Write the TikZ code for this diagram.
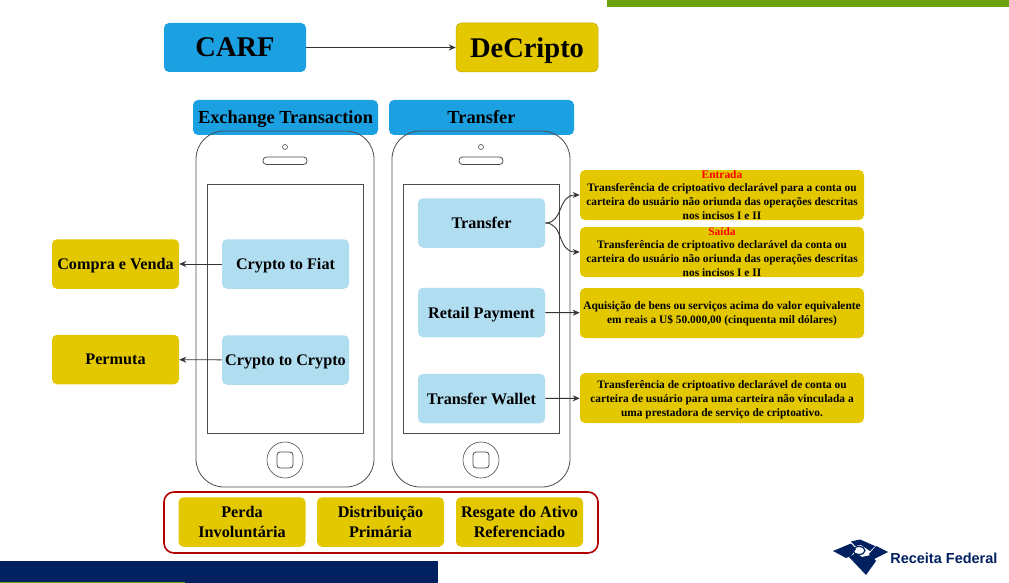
\documentclass[tikz,border=0pt]{standalone}
\usepackage{fontspec}
\setmainfont{Liberation Serif}
\newfontfamily\logofont{Liberation Sans}
\usepackage{xcolor}
\usetikzlibrary{arrows.meta}
\definecolor{carfblue}{HTML}{1BA1E2}
\definecolor{paleblue}{HTML}{B1DDF0}
\definecolor{gold}{HTML}{E3C800}
\definecolor{frame}{HTML}{B20000}
\definecolor{navy}{HTML}{002060}
\definecolor{leaf}{HTML}{6AA50F}

\begin{document}
\begin{tikzpicture}
	[x=1pt,y=-1pt,line width=0.6,font=\bfseries,
	>={Stealth[length=7pt,width=6pt]},
	box/.style = {
		rounded corners=5pt, inner sep=0pt, align=center, text=black, text depth=0pt
	},
	head/.style = {
		box, fill=carfblue, minimum width=142pt, minimum height=49pt, font=\fontsize{28.5}{30}\selectfont\bfseries
	},
	tab/.style = {
		box, fill=carfblue, minimum width=185pt, minimum height=35pt, font=\fontsize{18.4}{20}\selectfont\bfseries
	},
	act/.style = {
		box, fill=paleblue, minimum width=127pt, minimum height=49.5pt, font=\fontsize{16.2}{20}\selectfont\bfseries
	},
	tag/.style = {
		box, fill=gold, minimum width=127pt, minimum height=49.5pt, font=\fontsize{16.2}{20}\selectfont\bfseries
	},
	note/.style = {
		box, fill=gold, minimum width=284pt, minimum height=50pt, font=\fontsize{11.4}{14}\selectfont\bfseries
	},
	case/.style = {
		draw=black!70, line width=0.8pt, rounded corners=28pt
	},
	part/.style = {
		draw=black!70, line width=0.8pt
	},
	wire/.style = {
		draw=black!80, line width=0.9pt, ->
	}]
	\useasboundingbox (0,0) rectangle (1009,583);

	%Draw bars
	\fill[leaf] (607,0) rectangle (1009,7);
	\fill[navy] (0,561) rectangle (438,583);
	\fill[leaf] (0,582) rectangle (185,583);

	%Draw nodes
	\node[head] at (235,47.5) (carf) {CARF};
	\node[head,fill=gold,draw=gold!85!black,line width=0.5pt] at (527,47.5) (decripto) {DeCripto};
	\node[tab] at (285.5,117.5) (exch) {Exchange Transaction};
	\node[tab] at (481.5,117.5) (transfer) {Transfer};

	\node[act] at (285.5,264) (fiat) {Crypto to Fiat};
	\node[act] at (285.5,360) (crypto) {Crypto to Crypto};
	\node[tag] at (115.5,264) (compra) {Compra e Venda};
	\node[tag] at (115.5,359.5) (permuta) {Permuta};

	\node[act] at (481.5,223) (tr) {Transfer};
	\node[act] at (481.5,312.5) (retail) {Retail Payment};
	\node[act] at (481.5,398.5) (wallet) {Transfer Wallet};

	\node[note] at (722,195) (entrada) {\textcolor{red}{Entrada}\\[-1pt]Transferência de criptoativo declarável para a conta ou\\carteira do usuário não oriunda das operações descritas\\nos incisos I e II};
	\node[note] at (722,252) (saida) {\textcolor{red}{Saída}\\[-1pt]Transferência de criptoativo declarável da conta ou\\carteira do usuário não oriunda das operações descritas\\nos incisos I e II};
	\node[note] at (722,313) (compras) {Aquisição de bens ou serviços acima do valor equivalente\\em reais a U\$ 50.000,00 (cinquenta mil dólares)};
	\node[note] at (722,398) (carteira) {Transferência de criptoativo declarável de conta ou\\carteira de usuário para uma carteira não vinculada a\\uma prestadora de serviço de criptoativo.};

	\node[draw=frame,line width=1.6pt,rounded corners=10pt,minimum width=434pt,minimum height=61pt,inner sep=0pt] at (381,522.5) (outer) {};
	\node[tag] at (242,522) (perda) {Perda\\Involuntária};
	\node[tag] at (380.5,522) (dist) {Distribuição\\Primária};
	\node[tag] at (519.5,522) (resgate) {Resgate do Ativo\\Referenciado};

	%Draw phones
	\foreach \cx in {285,481} {
		\draw[case] (\cx-89,131) rectangle (\cx+89,487);
		\draw[part] (\cx-78,184) rectangle (\cx+78,433);
		\draw[part,line width=0.6pt] (\cx,147) circle (2.5);
		\draw[part,rounded corners=3.5pt] (\cx-22,157) rectangle (\cx+22,164.5);
		\draw[part,line width=0.6pt] (\cx,460) circle (18);
		\draw[part,rounded corners=3pt] (\cx-8,452) rectangle (\cx+8,468);
	}

	%Draw wires
	\draw[wire] (carf) -- (decripto);
	\draw[wire] (fiat) -- (compra);
	\draw[wire] (crypto) -- (permuta);
	\draw[wire] (tr.east) .. controls (564,223) and (557,195) .. (entrada.west);
	\draw[wire] (tr.east) .. controls (564,223) and (557,252) .. (saida.west);
	\draw[wire] (retail) -- (compras);
	\draw[wire] (wallet) -- (carteira);

	%Draw logo
	\fill[navy] (833,551) -- (851,543.5) -- (856,549) -- (851,556) -- (846,558) -- cycle;
	\fill[navy] (851,541.5) -- (860,539.5) -- (875,546) -- (870,551) -- (861,545) -- (855,546) -- cycle;
	\fill[navy] (876,546) -- (888,552) -- (873,559.5) -- (869,554) -- cycle;
	\fill[navy] (849,557) -- (856,553) -- (862,557) -- (871,555) -- (876,561) -- (866,575) -- cycle;
	\draw[navy,line width=1.2pt] (859,550.5) ellipse (6 and 4);
	\node[text=navy,inner sep=0pt,anchor=west,font=\logofont\fontsize{14.5}{15}\selectfont\bfseries] at (890,558.5) (logo) {Receita Federal};
\end{tikzpicture}
\end{document}
